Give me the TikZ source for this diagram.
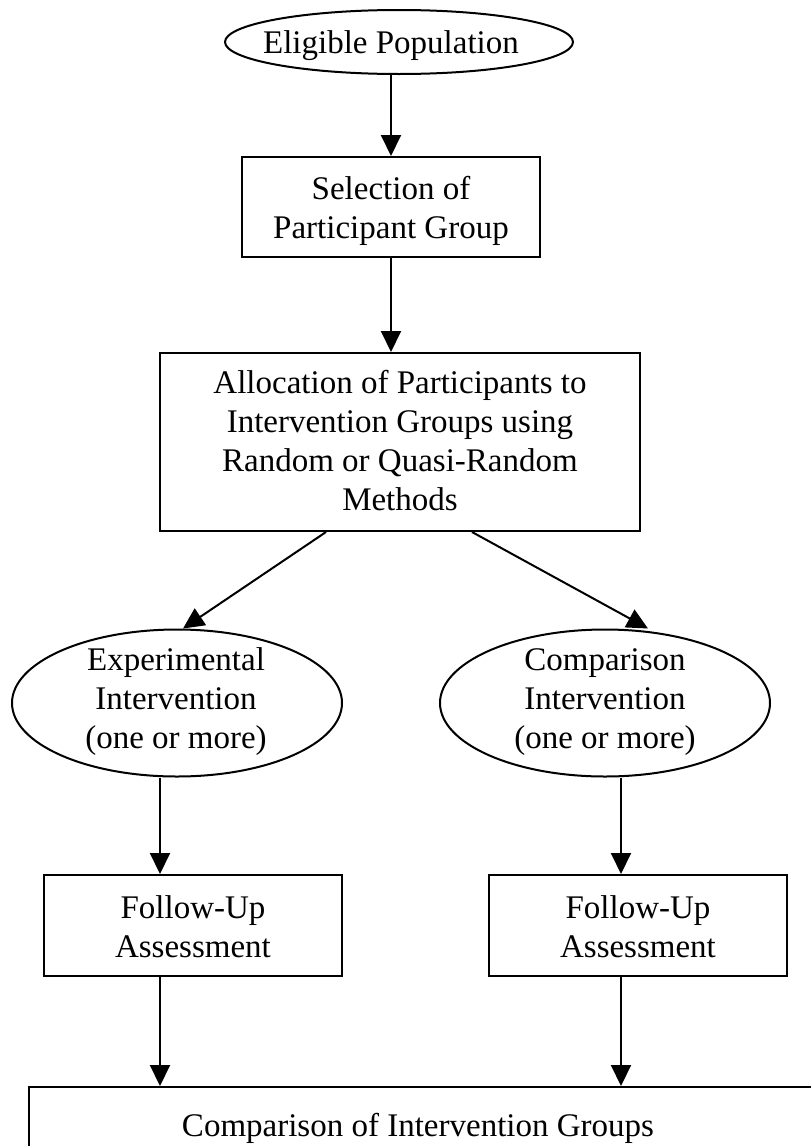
\documentclass[tikz,border=0pt]{standalone}
\usepackage{fontspec}
\setmainfont{Liberation Serif}
\usetikzlibrary{arrows.meta,shapes.geometric}
\begin{document}
\begin{tikzpicture}[x=1pt,y=-1pt,
  shp/.style={draw=black, line width=2pt, inner sep=0pt, fill=white},
  oval/.style={shp, ellipse},
  boxn/.style={shp, rectangle},
  txt/.style={anchor=base, align=center, inner sep=0pt,
    font=\fontsize{33pt}{39pt}\selectfont},
  arr/.style={line width=2pt, -{Triangle[length=21pt,width=20pt]}}]
\useasboundingbox (0,0) rectangle (811,1146);
\clip (0,0) rectangle (811,1146);
\fill[white] (0,0) rectangle (811,1146);
% shapes
\node[oval, minimum width=348pt, minimum height=64pt] (elig) at (399,42) {};
\node[boxn, minimum width=298pt, minimum height=100pt] (sel) at (391,207) {};
\node[boxn, minimum width=480pt, minimum height=178pt] (alloc) at (400,442) {};
\node[oval, minimum width=330pt, minimum height=147pt] (ex) at (177,703) {};
\node[oval, minimum width=330pt, minimum height=147pt] (ce) at (605,703) {};
\node[boxn, minimum width=298pt, minimum height=101pt] (fl) at (193,925.5) {};
\node[boxn, minimum width=298pt, minimum height=101pt] (fr) at (638,925.5) {};
\node[boxn, anchor=north west, minimum width=802pt, minimum height=120pt] (cmp) at (28,1086) {};
% texts (anchored at the baseline of the last line)
\node[txt] (t1) at (391,53) {Eligible Population};
\node[txt] (t2) at (391,238) {Selection of\\Participant Group};
\node[txt] (t3) at (400,510) {Allocation of Participants to\\Intervention Groups using\\Random or Quasi-Random\\Methods};
\node[txt] (t4) at (176,748) {Experimental\\Intervention\\(one or more)};
\node[txt] (t5) at (605,748) {Comparison\\Intervention\\(one or more)};
\node[txt] (t6) at (193,957) {Follow-Up\\Assessment};
\node[txt] (t7) at (638,957) {Follow-Up\\Assessment};
\node[txt] (t8) at (418,1136) {Comparison of Intervention Groups};
% connectors
\draw[arr] ([xshift=-8pt]elig.south) -- (sel.north);
\draw[arr] (sel.south) -- ([xshift=-9pt]alloc.north);
\draw[arr] ([xshift=-74pt]alloc.south) -- ([xshift=6pt]ex.north);
\draw[arr] ([xshift=72pt]alloc.south) -- ([xshift=43pt]ce.north);
\draw[arr] ([xshift=-17pt]ex.south) -- ([xshift=-33pt]fl.north);
\draw[arr] ([xshift=16pt]ce.south) -- ([xshift=-17pt]fr.north);
\draw[arr] ([xshift=-33pt]fl.south) -- ([xshift=-33pt]fl.south |- cmp.north);
\draw[arr] ([xshift=-17pt]fr.south) -- ([xshift=-17pt]fr.south |- cmp.north);
\end{tikzpicture}
\end{document}
